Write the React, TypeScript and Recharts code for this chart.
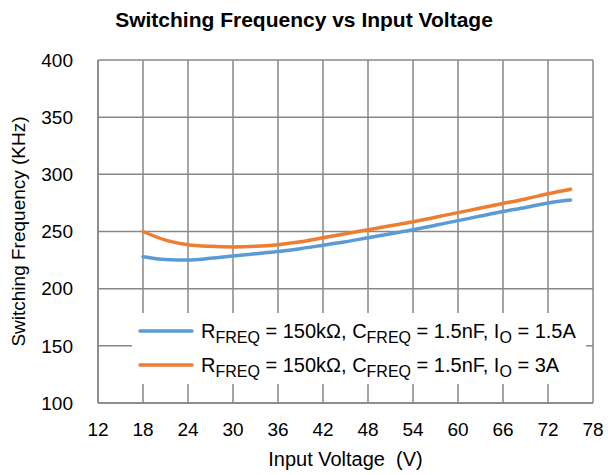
import { LineChart, Line, XAxis, YAxis, CartesianGrid, Legend, Label } from 'recharts'

// input voltage (V) where the curves were read
const VIN = [18, 21, 24, 27, 30, 33, 36, 39, 42, 45, 48, 51, 54, 57, 60, 63, 66, 69, 72, 75]
// switching frequency (kHz), Io = 1.5A
const FSW_IO_1A5 = [228, 225.5, 225, 226.5, 228.5, 230.5, 232.5, 235, 238, 241, 244.5, 248, 251.5, 255.5, 259.5, 263.5, 267.5, 271, 275, 277.5]
// switching frequency (kHz), Io = 3A
const FSW_IO_3A = [250, 242.5, 238.5, 237, 236.5, 237, 238.5, 241, 244.5, 248, 251.5, 255, 258.5, 262.5, 266.5, 270.5, 274.5, 278.5, 283, 287]

const X_TICKS = [12, 18, 24, 30, 36, 42, 48, 54, 60, 66, 72, 78]
const Y_TICKS = [100, 150, 200, 250, 300, 350, 400]

const SERIES = [
  { key: 'io15', io: '1.5A', color: '#5B9BD5' },
  { key: 'io3', io: '3A', color: '#ED7D31' },
]

const data = VIN.map((v, i) => ({ vin: v, io15: FSW_IO_1A5[i], io3: FSW_IO_3A[i] }))

const FONT = '"Liberation Sans", Arial, sans-serif'
const GRID = '#878787'
const TXT = 19

const sub = (t: string) => (
  <span style={{ fontSize: 16, position: 'relative', top: 5 }}>{t}</span>
)

function LegendBox() {
  return (
    <div style={{ background: '#fff', width: 454, height: 71, fontFamily: FONT, fontSize: 20, color: '#000' }}>
      {SERIES.map((s, i) => (
        <div key={s.key} style={{ position: 'absolute', left: 6, top: 6 + i * 34, height: 24, display: 'flex', alignItems: 'center', whiteSpace: 'nowrap' }}>
          <svg width={56} height={6} style={{ marginRight: 7 }}>
            <line x1={2} y1={3} x2={54} y2={3} stroke={s.color} strokeWidth={3.5} strokeLinecap="round" />
          </svg>
          <span>
            R{sub('FREQ')} = 150kΩ, C{sub('FREQ')} = 1.5nF, I{sub('O')} = {s.io}
          </span>
        </div>
      ))}
    </div>
  )
}

function YTitle({ viewBox }: any) {
  const cx = viewBox.x + 18
  const cy = viewBox.y + viewBox.height / 2
  return (
    <text x={cx} y={cy} transform={`rotate(-90 ${cx} ${cy})`} textAnchor="middle" dominantBaseline="central"
      fontFamily={FONT} fontSize={TXT} fill="#000">
      Switching Frequency (KHz)
    </text>
  )
}

function XTitle({ viewBox }: any) {
  return (
    <text x={viewBox.x + viewBox.width / 2} y={viewBox.y + 63} textAnchor="middle"
      fontFamily={FONT} fontSize={20} fill="#000">
      {'Input Voltage \u00A0(V)'}
    </text>
  )
}

export default function App() {
  return (
    <div style={{ position: 'fixed', left: 0, top: 0, width: 608, height: 475, background: '#fff' }}>
      <LineChart width={608} height={475} data={data} margin={{ top: 60, right: 15, left: 0, bottom: 0 }}>
        <CartesianGrid stroke={GRID} strokeWidth={1.5} />
        <XAxis dataKey="vin" type="number" domain={[12, 78]} ticks={X_TICKS} interval={0}
          height={72} axisLine={{ stroke: GRID, strokeWidth: 1.5 }} tickLine={false} tickSize={0} tickMargin={20}
          tick={{ fontFamily: FONT, fontSize: TXT, fill: '#000' }}>
          <Label content={<XTitle />} />
        </XAxis>
        <YAxis type="number" domain={[100, 400]} ticks={Y_TICKS} interval={0} width={98}
          axisLine={{ stroke: GRID, strokeWidth: 1.5 }} tickLine={false} tickSize={0} tickMargin={25}
          tick={{ fontFamily: FONT, fontSize: TXT, fill: '#000' }}>
          <Label content={<YTitle />} />
        </YAxis>
        {SERIES.map(s => (
          <Line key={s.key} dataKey={s.key} type="monotone" stroke={s.color} strokeWidth={3.5}
            strokeLinecap="round" dot={false} activeDot={false} isAnimationActive={false} />
        ))}
        <Legend layout="vertical" align="center" verticalAlign="middle"
          wrapperStyle={{ left: 132, top: 313, width: 454, height: 71 }} content={<LegendBox />} />
      </LineChart>
      <svg width={608} height={40} style={{ position: 'absolute', left: 0, top: 0, pointerEvents: 'none' }}>
        <text x={304} y={27} textAnchor="middle" fontFamily={FONT} fontSize={21} fontWeight="bold" fill="#000">
          Switching Frequency vs Input Voltage
        </text>
      </svg>
    </div>
  )
}
